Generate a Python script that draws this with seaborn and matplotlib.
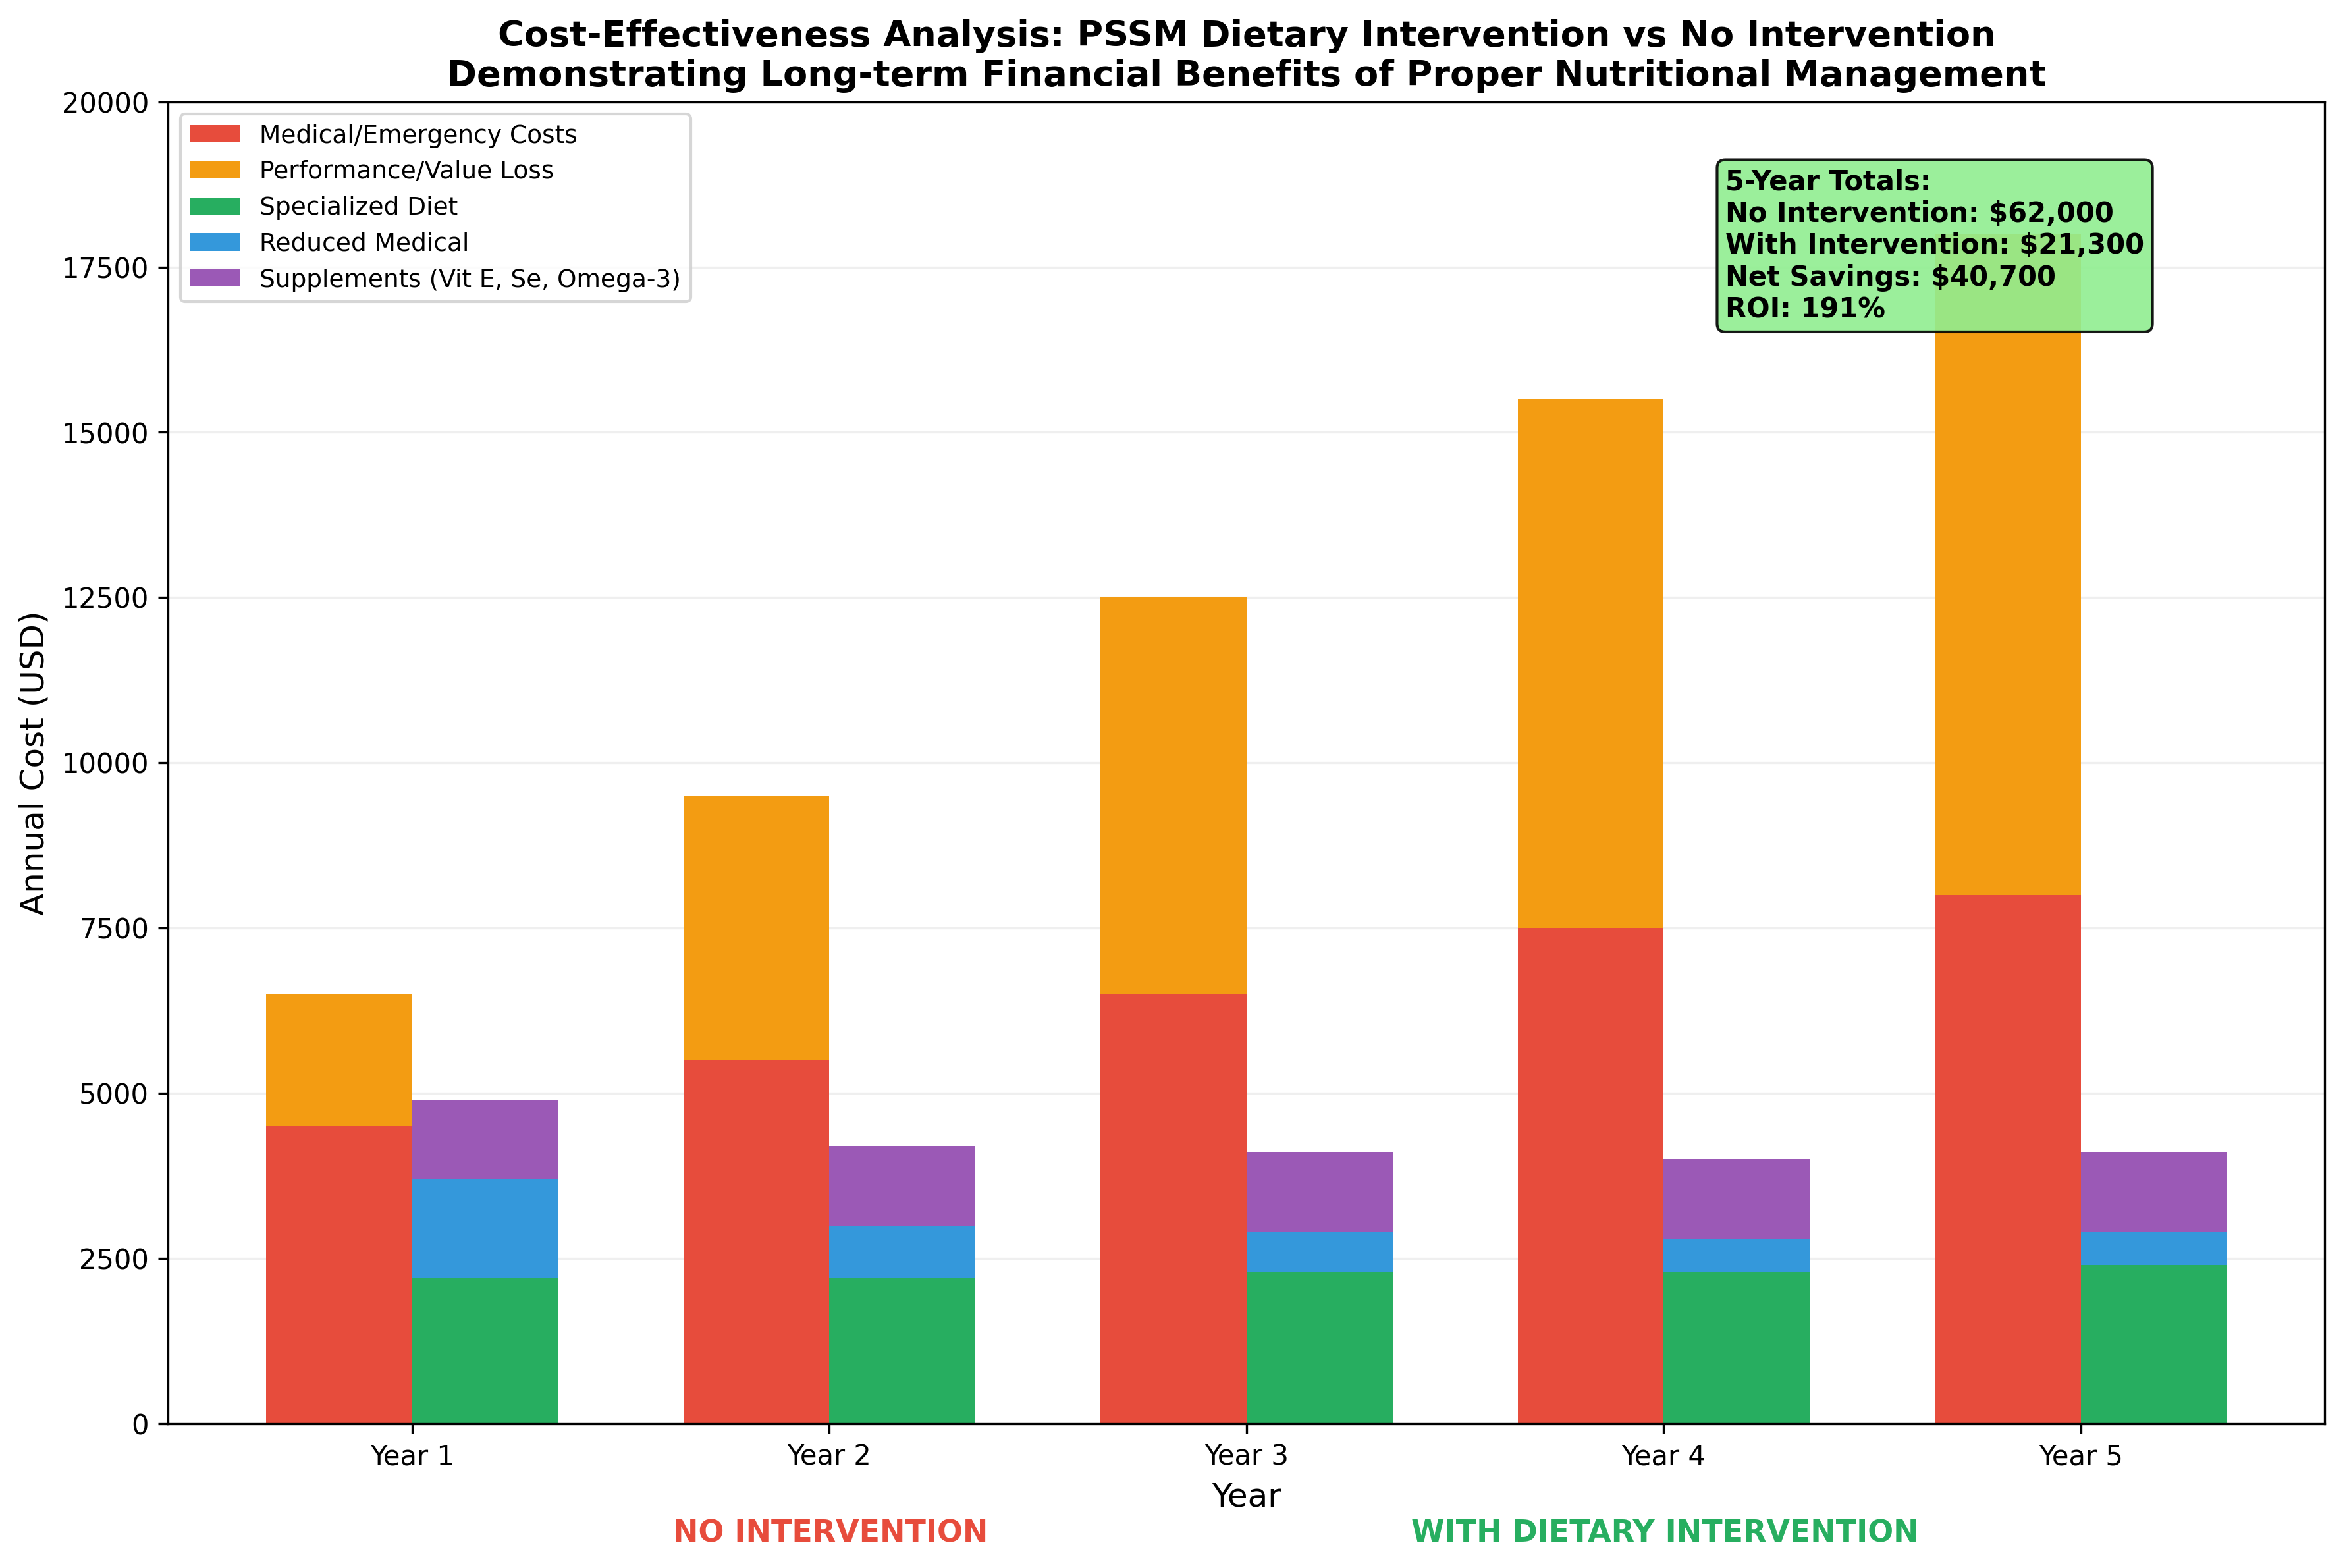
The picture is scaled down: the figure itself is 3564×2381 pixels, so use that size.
import numpy as np
import matplotlib.pyplot as plt
import seaborn as sns

years = ['Year 1', 'Year 2', 'Year 3', 'Year 4', 'Year 5']

# no intervention
medical_costs = [4500, 5500, 6500, 7500, 8000]
performance_loss = [2000, 4000, 6000, 8000, 10000]

# with dietary intervention
diet_costs = [2200, 2200, 2300, 2300, 2400]
reduced_medical = [1500, 800, 600, 500, 500]
supplement_costs = [1200, 1200, 1200, 1200, 1200]

colors = {'medical': '#e74c3c', 'perf': '#f39c12', 'diet': '#27ae60',
          'reduced': '#3498db', 'supp': '#9b59b6'}

sns.set_style('ticks', rc={'text.color': 'black', 'axes.labelcolor': 'black',
                           'xtick.color': 'black', 'ytick.color': 'black',
                           'axes.edgecolor': 'black'})
plt.rcParams['font.family'] = ['DejaVu Sans']

fig = plt.figure(figsize=(11.88, 7.937), dpi=300)
ax = fig.add_axes([0.0716, 0.092, 0.919, 0.843])

x = np.arange(len(years))
w = 0.35

ax.bar(x - w/2, medical_costs, w, color=colors['medical'], linewidth=0,
       label='Medical/Emergency Costs')
ax.bar(x - w/2, performance_loss, w, bottom=medical_costs, color=colors['perf'], linewidth=0,
       label='Performance/Value Loss')

ax.bar(x + w/2, diet_costs, w, color=colors['diet'], linewidth=0, label='Specialized Diet')
ax.bar(x + w/2, reduced_medical, w, bottom=diet_costs, color=colors['reduced'], linewidth=0,
       label='Reduced Medical')
bottom2 = np.array(diet_costs) + np.array(reduced_medical)
ax.bar(x + w/2, supplement_costs, w, bottom=bottom2, color=colors['supp'], linewidth=0,
       label='Supplements (Vit E, Se, Omega-3)')

ax.set_xticks(x)
ax.set_xticklabels(years)
ax.set_ylim(0, 20000)
ax.set_xlabel('Year', fontsize=12)
ax.set_ylabel('Annual Cost (USD)', fontsize=12)
ax.set_title('Cost-Effectiveness Analysis: PSSM Dietary Intervention vs No Intervention\n'
             'Demonstrating Long-term Financial Benefits of Proper Nutritional Management',
             fontsize=13, fontweight='bold')
ax.yaxis.grid(True, alpha=0.3)
ax.set_axisbelow(True)

ax.legend(loc='upper left', fontsize=9)

total_no = sum(medical_costs) + sum(performance_loss)
total_with = sum(diet_costs) + sum(reduced_medical) + sum(supplement_costs)
savings = total_no - total_with
roi = savings / total_with * 100
summary = (f'5-Year Totals:\nNo Intervention: ${total_no:,}\n'
           f'With Intervention: ${total_with:,}\nNet Savings: ${savings:,}\nROI: {roi:.0f}%')
ax.text(0.722, 0.95, summary, transform=ax.transAxes, fontsize=10, fontweight='bold',
        va='top', bbox=dict(boxstyle='round', facecolor='lightgreen', edgecolor='black',
                            alpha=0.9))

ax.text(0.307, -0.083, 'NO INTERVENTION', transform=ax.transAxes, ha='center', va='center',
        fontsize=11, fontweight='bold', color=colors['medical'])
ax.text(0.694, -0.083, 'WITH DIETARY INTERVENTION', transform=ax.transAxes, ha='center',
        va='center', fontsize=11, fontweight='bold', color=colors['diet'])

plt.savefig('out.png', dpi=300)
